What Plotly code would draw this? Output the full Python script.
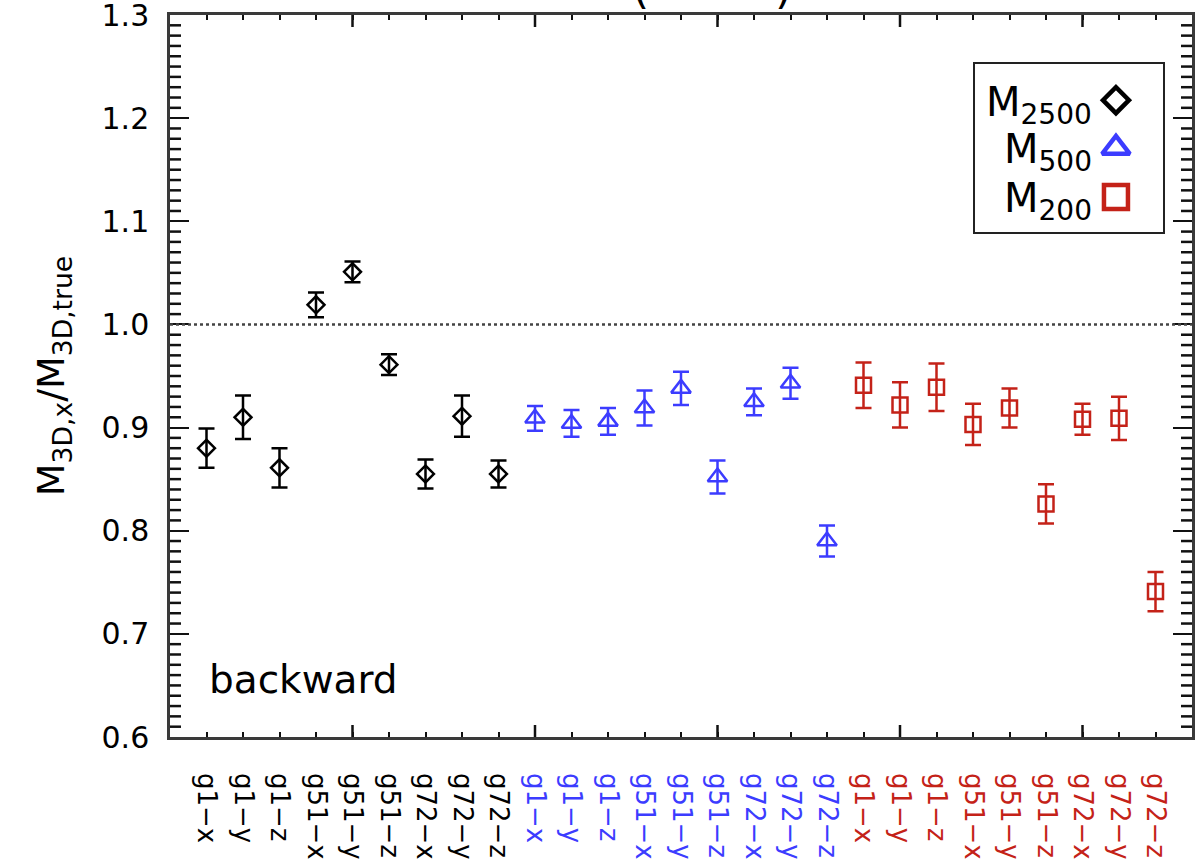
import plotly.graph_objects as go

# ---------------- data ----------------
labels = ["g1−x", "g1−y", "g1−z", "g51−x", "g51−y", "g51−z", "g72−x", "g72−y", "g72−z"]

m2500 = [0.880, 0.910, 0.861, 1.019, 1.051, 0.961, 0.855, 0.911, 0.855]
m2500_err = [0.019, 0.021, 0.019, 0.012, 0.010, 0.010, 0.014, 0.020, 0.013]

m500 = [0.909, 0.904, 0.906, 0.919, 0.938, 0.852, 0.925, 0.943, 0.790]
m500_err = [0.012, 0.013, 0.013, 0.017, 0.016, 0.016, 0.013, 0.015, 0.015]

m200 = [0.941, 0.922, 0.939, 0.903, 0.919, 0.826, 0.908, 0.909, 0.741]
m200_err = [0.022, 0.022, 0.023, 0.020, 0.019, 0.019, 0.015, 0.021, 0.019]

y_range = [0.6, 1.3]
ref_level = 1.0
long_xticks = [5, 10, 15, 20, 25]

BLACK = "#000000"
BLUE = "#3c3cff"
RED = "#c42218"
FONT = "DejaVu Sans"
TICKC = "#111111"

W, H = 1202, 863
ML, MR, MT, MB = 170, 10, 15, 126

n = len(labels)
x_black = list(range(1, n + 1))
x_blue = list(range(n + 1, 2 * n + 1))
x_red = list(range(2 * n + 1, 3 * n + 1))
x_all = x_black + x_blue + x_red
x_range = [0, 3 * n + 1]

ticktext = ([f'<span style="color:{BLACK}">{t}</span>' for t in labels] +
            [f'<span style="color:{BLUE}">{t}</span>' for t in labels] +
            [f'<span style="color:{RED}">{t}</span>' for t in labels])

# pixel -> data conversions for tick decorations
px_per_x = (W - ML - MR) / (x_range[1] - x_range[0])
px_per_y = (H - MT - MB) / (y_range[1] - y_range[0])

fig = go.Figure()


def series(x, y, e, color, symbol, size, name):
    fig.add_trace(go.Scatter(
        x=x, y=y, mode="markers", name=name, showlegend=False,
        marker=dict(symbol=symbol, size=size, color=color,
                    line=dict(color=color, width=2.5)),
        error_y=dict(type="data", array=e, visible=True, color=color,
                     thickness=2.5, width=8),
    ))


series(x_black, m2500, m2500_err, BLACK, "diamond-open", 13, "M2500")
series(x_blue, m500, m500_err, BLUE, "triangle-up-open", 17, "M500")
series(x_red, m200, m200_err, RED, "square-open", 15, "M200")

# ---- minor y ticks (every 0.01, inside, left and right) ----
minor_len = 11
minor_y = [k / 100 for k in range(61, 130) if k % 10 != 0]
dx = (minor_len / 2) / px_per_x
fig.add_trace(go.Scatter(
    x=[x_range[0] + dx] * len(minor_y) + [x_range[1] - dx] * len(minor_y),
    y=minor_y + minor_y, mode="markers", showlegend=False, hoverinfo="skip",
    marker=dict(symbol="line-ew", size=minor_len / 1.4, color=TICKC,
                line=dict(color=TICKC, width=2.5)),
))

# ---- long x ticks every 5 categories (inside, bottom and top) ----
long_len = 12
dy = (long_len / 2) / px_per_y
fig.add_trace(go.Scatter(
    x=long_xticks + long_xticks,
    y=[y_range[0] + dy] * len(long_xticks) + [y_range[1] - dy] * len(long_xticks),
    mode="markers", showlegend=False, hoverinfo="skip",
    marker=dict(symbol="line-ns", size=long_len / 1.4, color=TICKC,
                line=dict(color=TICKC, width=2.5)),
))

# legend keys on an overlay axis (0..1 in both directions)
leg_y = [0.882, 0.816, 0.748]
leg_sym = ["diamond-open", "triangle-up-open", "square-open"]
leg_size = [20, 24, 24]
for yy, sym, col, sz in zip(leg_y, leg_sym, [BLACK, BLUE, RED], leg_size):
    fig.add_trace(go.Scatter(
        x=[0.9256], y=[yy], xaxis="x2", yaxis="y2", mode="markers",
        showlegend=False, hoverinfo="skip",
        marker=dict(symbol=sym, size=sz, color=col, line=dict(color=col, width=4.5)),
    ))

# reference dotted line
fig.add_shape(type="line", xref="paper", x0=0, x1=1, yref="y",
              y0=ref_level, y1=ref_level,
              line=dict(color="#444444", width=2.5, dash="dot"))

# legend box
fig.add_shape(type="rect", xref="paper", yref="paper",
              x0=0.7867, x1=0.9726, y0=0.698, y1=0.9335,
              line=dict(color="#222222", width=2), fillcolor="rgba(0,0,0,0)")

leg_txt = ["M<sub>2500</sub>", "M<sub>500</sub>", "M<sub>200</sub>"]
for t, yy in zip(leg_txt, leg_y):
    fig.add_annotation(text=t, xref="paper", yref="paper", x=0.904, y=yy - 0.006,
                       xanchor="right", yanchor="middle", showarrow=False,
                       font=dict(family=FONT, size=40, color="black"))

fig.add_annotation(text="backward", xref="paper", yref="paper", x=0.036, y=0.046,
                   xanchor="left", yanchor="bottom", showarrow=False,
                   font=dict(family=FONT, size=39, color="black"))

# partly visible title (cut at the top of the page)
fig.add_annotation(text="(" + "\u00a0" * 9 + ")", xref="paper", yref="paper",
                   x=0.530, y=1.0, xanchor="center", yanchor="bottom",
                   showarrow=False, font=dict(family=FONT, size=44, color="black"))

axis_line = dict(showline=True, linecolor="#3a3a3a", linewidth=2.5, mirror="ticks",
                 showgrid=False, zeroline=False, automargin=False)

fig.update_layout(
    width=W, height=H,
    margin=dict(l=ML, r=MR, t=MT, b=MB, autoexpand=False),
    paper_bgcolor="white", plot_bgcolor="white",
    font=dict(family=FONT, color="black"),
    xaxis=dict(
        range=x_range, tickmode="array", tickvals=x_all, ticktext=ticktext,
        tickangle=90, ticks="inside", ticklen=5, tickwidth=2, tickcolor=TICKC,
        tickfont=dict(family=FONT, size=26), ticklabelstandoff=28,
        **axis_line,
    ),
    yaxis=dict(
        range=[y_range[0], y_range[1] + 1e-6], tickmode="linear", tick0=0.6, dtick=0.1,
        tickformat=".1f", ticklabeloverflow="allow",
        ticks="inside", ticklen=19, tickwidth=2, tickcolor=TICKC,
        tickfont=dict(family=FONT, size=30), ticklabelstandoff=12,
        title=dict(text="M<sub>3D,x</sub>/M<sub>3D,true</sub>",
                   font=dict(family=FONT, size=38), standoff=26),
        **axis_line,
    ),
    xaxis2=dict(overlaying="x", range=[0, 1], visible=False, fixedrange=True),
    yaxis2=dict(overlaying="y", range=[0, 1], visible=False, fixedrange=True, anchor="x2"),
)

fig.write_html("out.html")
